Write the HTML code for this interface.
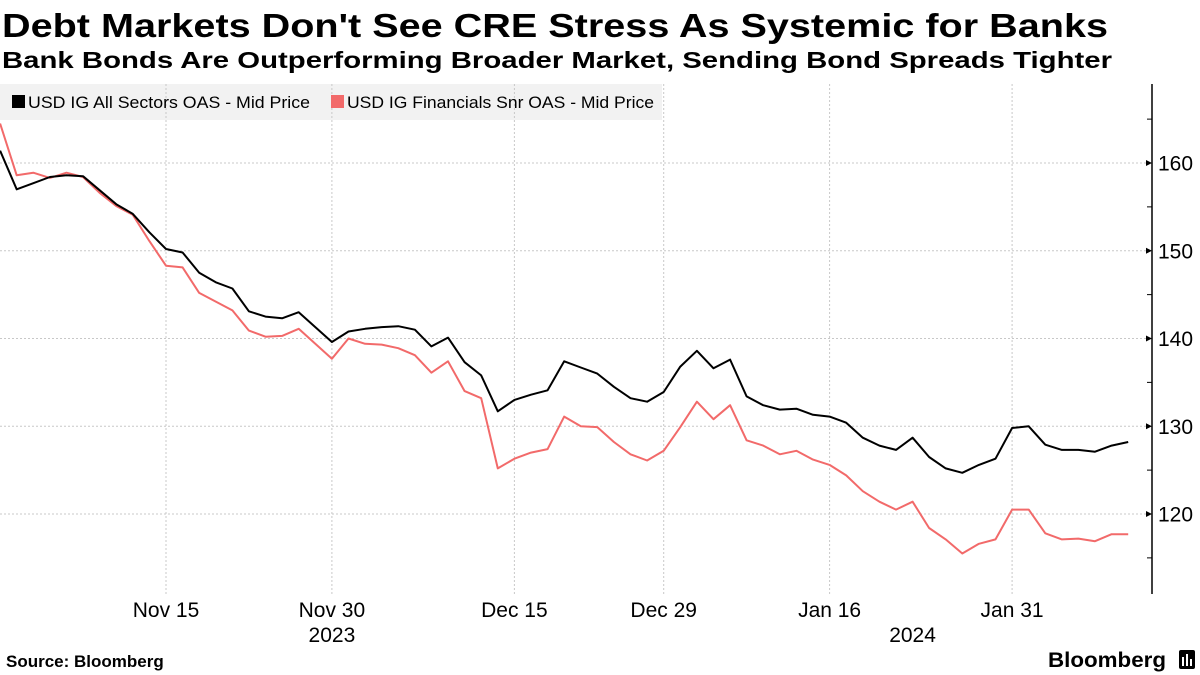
<!DOCTYPE html>
<html><head><meta charset="utf-8"><style>
html,body{margin:0;padding:0;background:#fff;}
svg{display:block;font-family:"Liberation Sans",sans-serif;}
</style></head><body>
<svg id="chart" width="1200" height="675" viewBox="0 0 1200 675">
<text x="2" y="37" font-size="33" font-weight="bold" textLength="1106" lengthAdjust="spacingAndGlyphs">Debt Markets Don't See CRE Stress As Systemic for Banks</text>
<text x="2" y="68" font-size="23" font-weight="bold" textLength="1110" lengthAdjust="spacingAndGlyphs">Bank Bonds Are Outperforming Broader Market, Sending Bond Spreads Tighter</text>
<rect x="0" y="84" width="662" height="36" fill="#f2f2f2"/>
<g id="grid"></g>
<g>
<g><rect x="12" y="95" width="13" height="13" fill="#000"/><text x="28" y="108" font-size="17" textLength="282" lengthAdjust="spacingAndGlyphs">USD IG All Sectors OAS - Mid Price</text></g>
<g><rect x="331" y="95" width="13" height="13" fill="#f26a6a"/><text x="347" y="108" font-size="17" textLength="307" lengthAdjust="spacingAndGlyphs">USD IG Financials Snr OAS - Mid Price</text></g>
</g>
<g id="axes"></g>
<g id="series"></g>
<text x="6" y="667" font-size="17" font-weight="bold">Source: Bloomberg</text>
<text x="1048" y="667" font-size="21" font-weight="bold" textLength="118" lengthAdjust="spacingAndGlyphs">Bloomberg</text>
<g><rect x="1179" y="650" width="16" height="19" rx="2" fill="#000"/><rect x="1182" y="657" width="2" height="9" fill="#fff"/><rect x="1186" y="654" width="2" height="12" fill="#fff"/><rect x="1190" y="659" width="2" height="7" fill="#fff"/></g>
</svg>
<script>
const allSectors = [161.4,157.0,157.7,158.4,158.6,158.5,156.9,155.3,154.2,152.1,150.2,149.8,147.5,146.4,145.7,143.1,142.5,142.3,143.0,141.3,139.6,140.8,141.1,141.3,141.4,141.0,139.1,140.1,137.3,135.8,131.7,133.0,133.6,134.1,137.4,136.7,136.0,134.5,133.2,132.8,133.9,136.8,138.6,136.6,137.6,133.4,132.4,131.9,132.0,131.3,131.1,130.4,128.7,127.8,127.3,128.7,126.5,125.2,124.7,125.6,126.3,129.8,130.0,127.9,127.3,127.3,127.1,127.8,128.2];
const financials = [164.5,158.6,158.9,158.3,158.9,158.4,156.6,155.1,154.1,151.1,148.3,148.1,145.2,144.2,143.2,140.9,140.2,140.3,141.1,139.4,137.7,140.0,139.4,139.3,138.9,138.1,136.1,137.4,134.0,133.2,125.2,126.3,127.0,127.4,131.1,130.0,129.9,128.2,126.8,126.1,127.2,129.9,132.8,130.8,132.4,128.4,127.8,126.8,127.2,126.2,125.6,124.4,122.6,121.4,120.5,121.4,118.4,117.1,115.5,116.6,117.1,120.5,120.5,117.8,117.1,117.2,116.9,117.7,117.7];
const xTickIdx = [10,20,31,40,50,61];
const xTickLabels = ["Nov 15","Nov 30","Dec 15","Dec 29","Jan 16","Jan 31"];
const yearIdx = [20,55];
const yearLabels = ["2023","2024"];
const yTicks = [120,130,140,150,160];
const yMinor = [115,125,135,145,155,165];

const NS="http://www.w3.org/2000/svg";
const xS = i => 0.1 + 16.59*i;
const yS = v => 163 + (160 - v)*8.775;
function mk(tag, attrs, parent){const e=document.createElementNS(NS,tag);for(const k in attrs)e.setAttribute(k,attrs[k]);parent.appendChild(e);return e;}
const grid=document.getElementById('grid'), axes=document.getElementById('axes'), series=document.getElementById('series');
const AX=1152, TOP=84, BOT=594;
yTicks.forEach(v=>{
  const l=mk('line',{x1:0,x2:AX,y1:yS(v),y2:yS(v),stroke:'#c8c8c8','stroke-dasharray':'2,2','stroke-width':1},grid);
  
  
  const t=mk('path',{d:`M${AX-6},${yS(v)-3}L${AX},${yS(v)}L${AX-6},${yS(v)+3}Z`,fill:'#000'},axes);
  
  
  const tx=mk('text',{x:AX+6,y:yS(v)+7.5,'font-size':21},axes);
  tx.textContent=v;
  
  
});
yMinor.forEach(v=>{
  const t=mk('line',{x1:AX-5,x2:AX,y1:yS(v),y2:yS(v),stroke:'#000','stroke-width':1},axes);
  
  
});
xTickIdx.forEach((i,k)=>{
  const l=mk('line',{x1:xS(i),x2:xS(i),y1:TOP,y2:BOT,stroke:'#c8c8c8','stroke-dasharray':'2,2','stroke-width':1},grid);
  
  
  const tx=mk('text',{x:xS(i),y:617,'font-size':21,'text-anchor':'middle'},axes);
  tx.textContent=xTickLabels[k];
  
  
});
yearIdx.forEach((i,k)=>{
  const tx=mk('text',{x:xS(i),y:642,'font-size':21,'text-anchor':'middle'},axes);
  tx.textContent=yearLabels[k];
  
  
});
const ax=mk('line',{x1:AX,x2:AX,y1:TOP,y2:BOT,stroke:'#000','stroke-width':1.5},axes);


function line(data,color,name){
  const p=mk('polyline',{points:data.map((v,i)=>xS(i).toFixed(1)+','+yS(v).toFixed(1)).join(' '),fill:'none',stroke:color,'stroke-width':2,'stroke-linejoin':'round'},series);
  
  
}
line(financials,'#f26a6a','financials-line');
line(allSectors,'#000','all-sectors-line');
</script>
</body></html>
